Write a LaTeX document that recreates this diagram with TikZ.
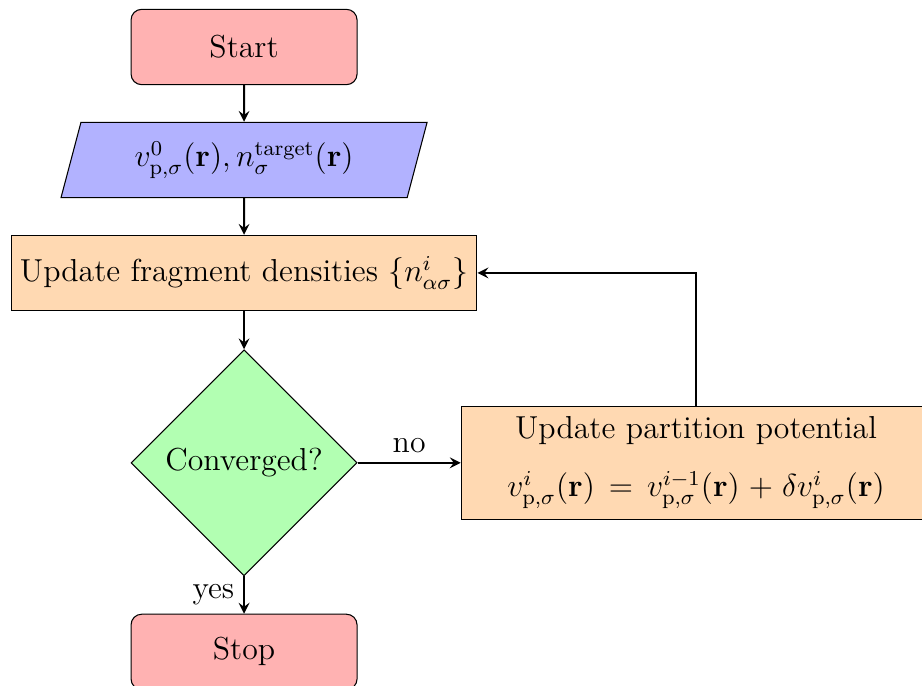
\documentclass[tikz,border=0pt]{standalone}
\usetikzlibrary{shapes.geometric,arrows}
\begin{document}
\begin{tikzpicture}[
  font=\large,
  startstop/.style={rectangle, rounded corners, minimum width=3cm, minimum height=1cm, text centered, draw=black, fill=red!30},
  io/.style={trapezium, trapezium left angle=70, trapezium right angle=110, trapezium stretches body, minimum width=4.86cm, minimum height=1cm, text centered, draw=black, fill=blue!30},
  process/.style={rectangle, minimum width=3cm, minimum height=1cm, text centered, draw=black, fill=orange!30},
  decision/.style={diamond, minimum width=3cm, minimum height=3cm, text centered, draw=black, fill=green!30},
  arrow/.style={thick, ->, >=stealth}
]
\useasboundingbox (-3.24,0.624) rectangle (9.0,-8.47);
\clip (-3.24,0.624) rectangle (9.0,-8.47);

\node (start) [startstop] at (0,0) {Start};
\node (in1) [io] at (0,-1.5) {$v^{0}_{\mathrm{p},\sigma}(\mathbf{r}), n^{\mathrm{target}}_{\sigma}(\mathbf{r})$};
\node (pro1) [process] at (0,-3) {Update fragment densities $\{n^{i}_{\alpha\sigma}\}$};
\node (dec1) [decision] at (0,-5.52) {Converged?};
\node (pro2) [process, text width=6cm, align=center, minimum height=1.5cm] at (6,-5.52)
  {Update partition potential\\[8pt] $v^{i}_{\mathrm{p},\sigma}(\mathbf{r}) = v^{i-1}_{\mathrm{p},\sigma}(\mathbf{r}) + \delta v^{i}_{\mathrm{p},\sigma}(\mathbf{r})$};
\node (stop) [startstop] at (0,-8.03) {Stop};

\draw [arrow] (start) -- (in1);
\draw [arrow] (in1) -- (pro1);
\draw [arrow] (pro1) -- (dec1);
\draw [arrow] (dec1) -- node[anchor=south] {no} (pro2);
\draw [arrow] (dec1) -- node[anchor=east] {yes} (stop);
\draw [arrow] (pro2.north) |- (pro1.east);
\end{tikzpicture}
\end{document}
